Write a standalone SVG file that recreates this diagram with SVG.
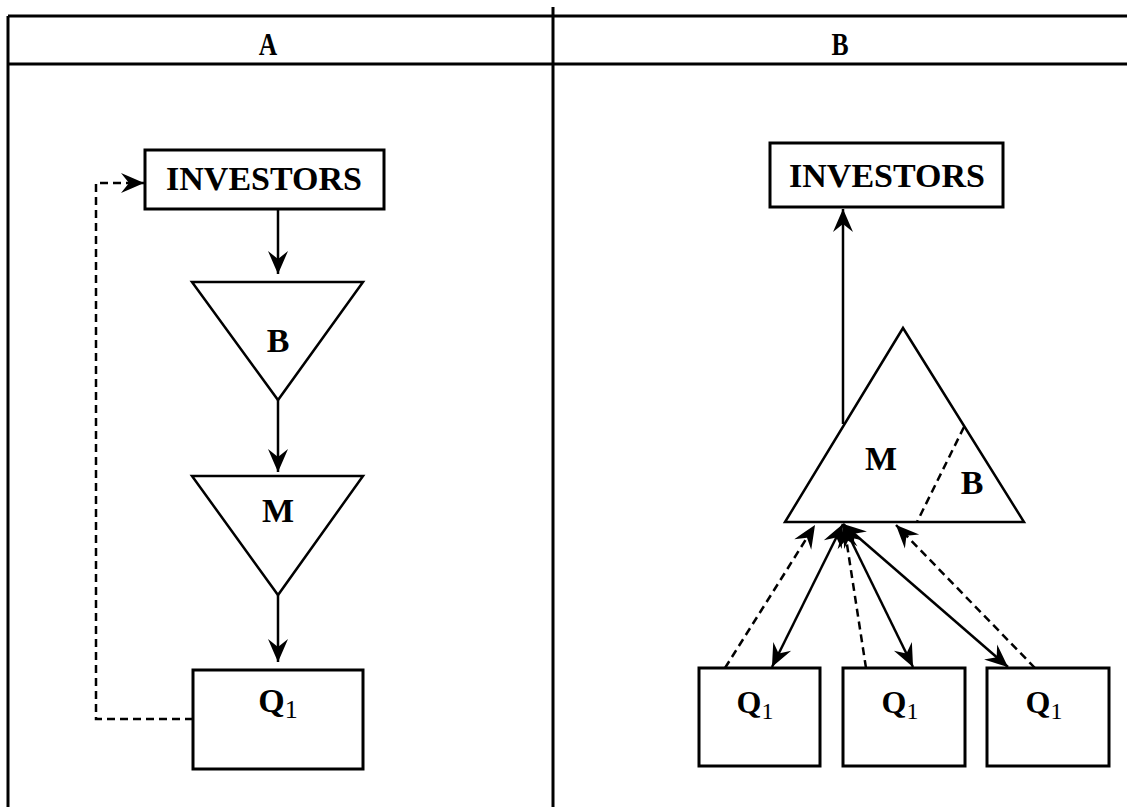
<svg xmlns="http://www.w3.org/2000/svg" width="1127" height="807" viewBox="0 0 1127 807">
<style>
.frame{stroke:#000;stroke-width:3;fill:none}
.box{stroke:#000;stroke-width:3;fill:#fff}
.tri{stroke:#000;stroke-width:2.5;fill:#fff;stroke-linejoin:miter}
.ln{stroke:#000;stroke-width:2.5;fill:none}
.dash{stroke:#000;stroke-width:2.5;fill:none;stroke-dasharray:8 5}
.lbl{font-family:"Liberation Serif","Times New Roman",serif;font-weight:bold;fill:#000;text-anchor:middle}
.sub{font-family:"Liberation Serif","Times New Roman",serif;font-weight:normal}
</style>
<defs>
<marker id="ah" viewBox="-26 -12 28 24" refX="0" refY="0" markerWidth="28" markerHeight="24" markerUnits="userSpaceOnUse" orient="auto-start-reverse">
<path d="M0,0 Q-9,-4 -23,-10 L-15,0 L-23,10 Q-9,4 0,0Z" fill="#000"/>
</marker>
</defs>
<rect width="1127" height="807" fill="#fff"/>
<g id="frame">
<line class="frame" x1="8" y1="16" x2="1127" y2="16"/>
<line class="frame" x1="8" y1="64" x2="1127" y2="64"/>
<line class="frame" x1="8" y1="16" x2="8" y2="807"/>
<line class="frame" x1="553" y1="7" x2="553" y2="807"/>
<text class="lbl" x="0" y="0" font-size="32" transform="translate(268,55) scale(0.8,1)">A</text>
<text class="lbl" x="0" y="0" font-size="32" transform="translate(840,55) scale(0.8,1)">B</text>
</g>
<g id="a-investors">
<rect class="box" x="145" y="150" width="239" height="59"/>
<text class="lbl" x="264" y="190" font-size="34">INVESTORS</text>
</g>
<g id="a-b">
<polygon class="tri" points="192,282 363,282 278,400"/>
<text class="lbl" x="278" y="352" font-size="34">B</text>
</g>
<g id="a-m">
<polygon class="tri" points="192,476 363,476 278,595"/>
<text class="lbl" x="278" y="522" font-size="34">M</text>
</g>
<g id="a-q1">
<rect class="box" x="193" y="670" width="170" height="99"/>
<text class="lbl" x="278" y="712" font-size="34">Q<tspan class="sub" font-size="26" dy="6">1</tspan></text>
</g>
<g id="b-investors">
<rect class="box" x="770" y="143" width="233" height="64"/>
<text class="lbl" x="887" y="187" font-size="34">INVESTORS</text>
</g>
<g id="b-mb">
<polygon class="tri" points="785,522 1024,522 903,328"/>
<line class="dash" x1="964" y1="427" x2="917" y2="522"/>
<text class="lbl" x="881" y="470" font-size="34">M</text>
<text class="lbl" x="972" y="494" font-size="34">B</text>
</g>
<g id="b-q1a">
<rect class="box" x="699" y="668" width="121" height="98"/>
<text class="lbl" x="755" y="713" font-size="32">Q<tspan class="sub" font-size="24" dy="6">1</tspan></text>
</g>
<g id="b-q1b">
<rect class="box" x="843" y="668" width="122" height="98"/>
<text class="lbl" x="900" y="713" font-size="32">Q<tspan class="sub" font-size="24" dy="6">1</tspan></text>
</g>
<g id="b-q1c">
<rect class="box" x="987" y="668" width="122" height="98"/>
<text class="lbl" x="1044" y="713" font-size="32">Q<tspan class="sub" font-size="24" dy="6">1</tspan></text>
</g>
<g id="connectors">
<line class="ln" x1="278" y1="209" x2="278" y2="274" marker-end="url(#ah)"/>
<line class="ln" x1="278" y1="400" x2="278" y2="472" marker-end="url(#ah)"/>
<line class="ln" x1="278" y1="595" x2="278" y2="662" marker-end="url(#ah)"/>
<polyline class="dash" points="193,719 96,719 96,183 144,183" marker-end="url(#ah)"/>
<line class="ln" x1="843" y1="424" x2="843" y2="209" marker-end="url(#ah)"/>
<line class="ln" x1="843" y1="524" x2="772" y2="667" marker-start="url(#ah)" marker-end="url(#ah)"/>
<line class="ln" x1="843" y1="524" x2="913" y2="667" marker-start="url(#ah)" marker-end="url(#ah)"/>
<line class="ln" x1="843" y1="524" x2="1008" y2="667" marker-start="url(#ah)" marker-end="url(#ah)"/>
<line class="dash" x1="725" y1="668" x2="815" y2="525" marker-end="url(#ah)"/>
<line class="dash" x1="866" y1="668" x2="844" y2="525" marker-end="url(#ah)"/>
<line class="dash" x1="1035" y1="668" x2="896" y2="525" marker-end="url(#ah)"/>
</g>
</svg>
